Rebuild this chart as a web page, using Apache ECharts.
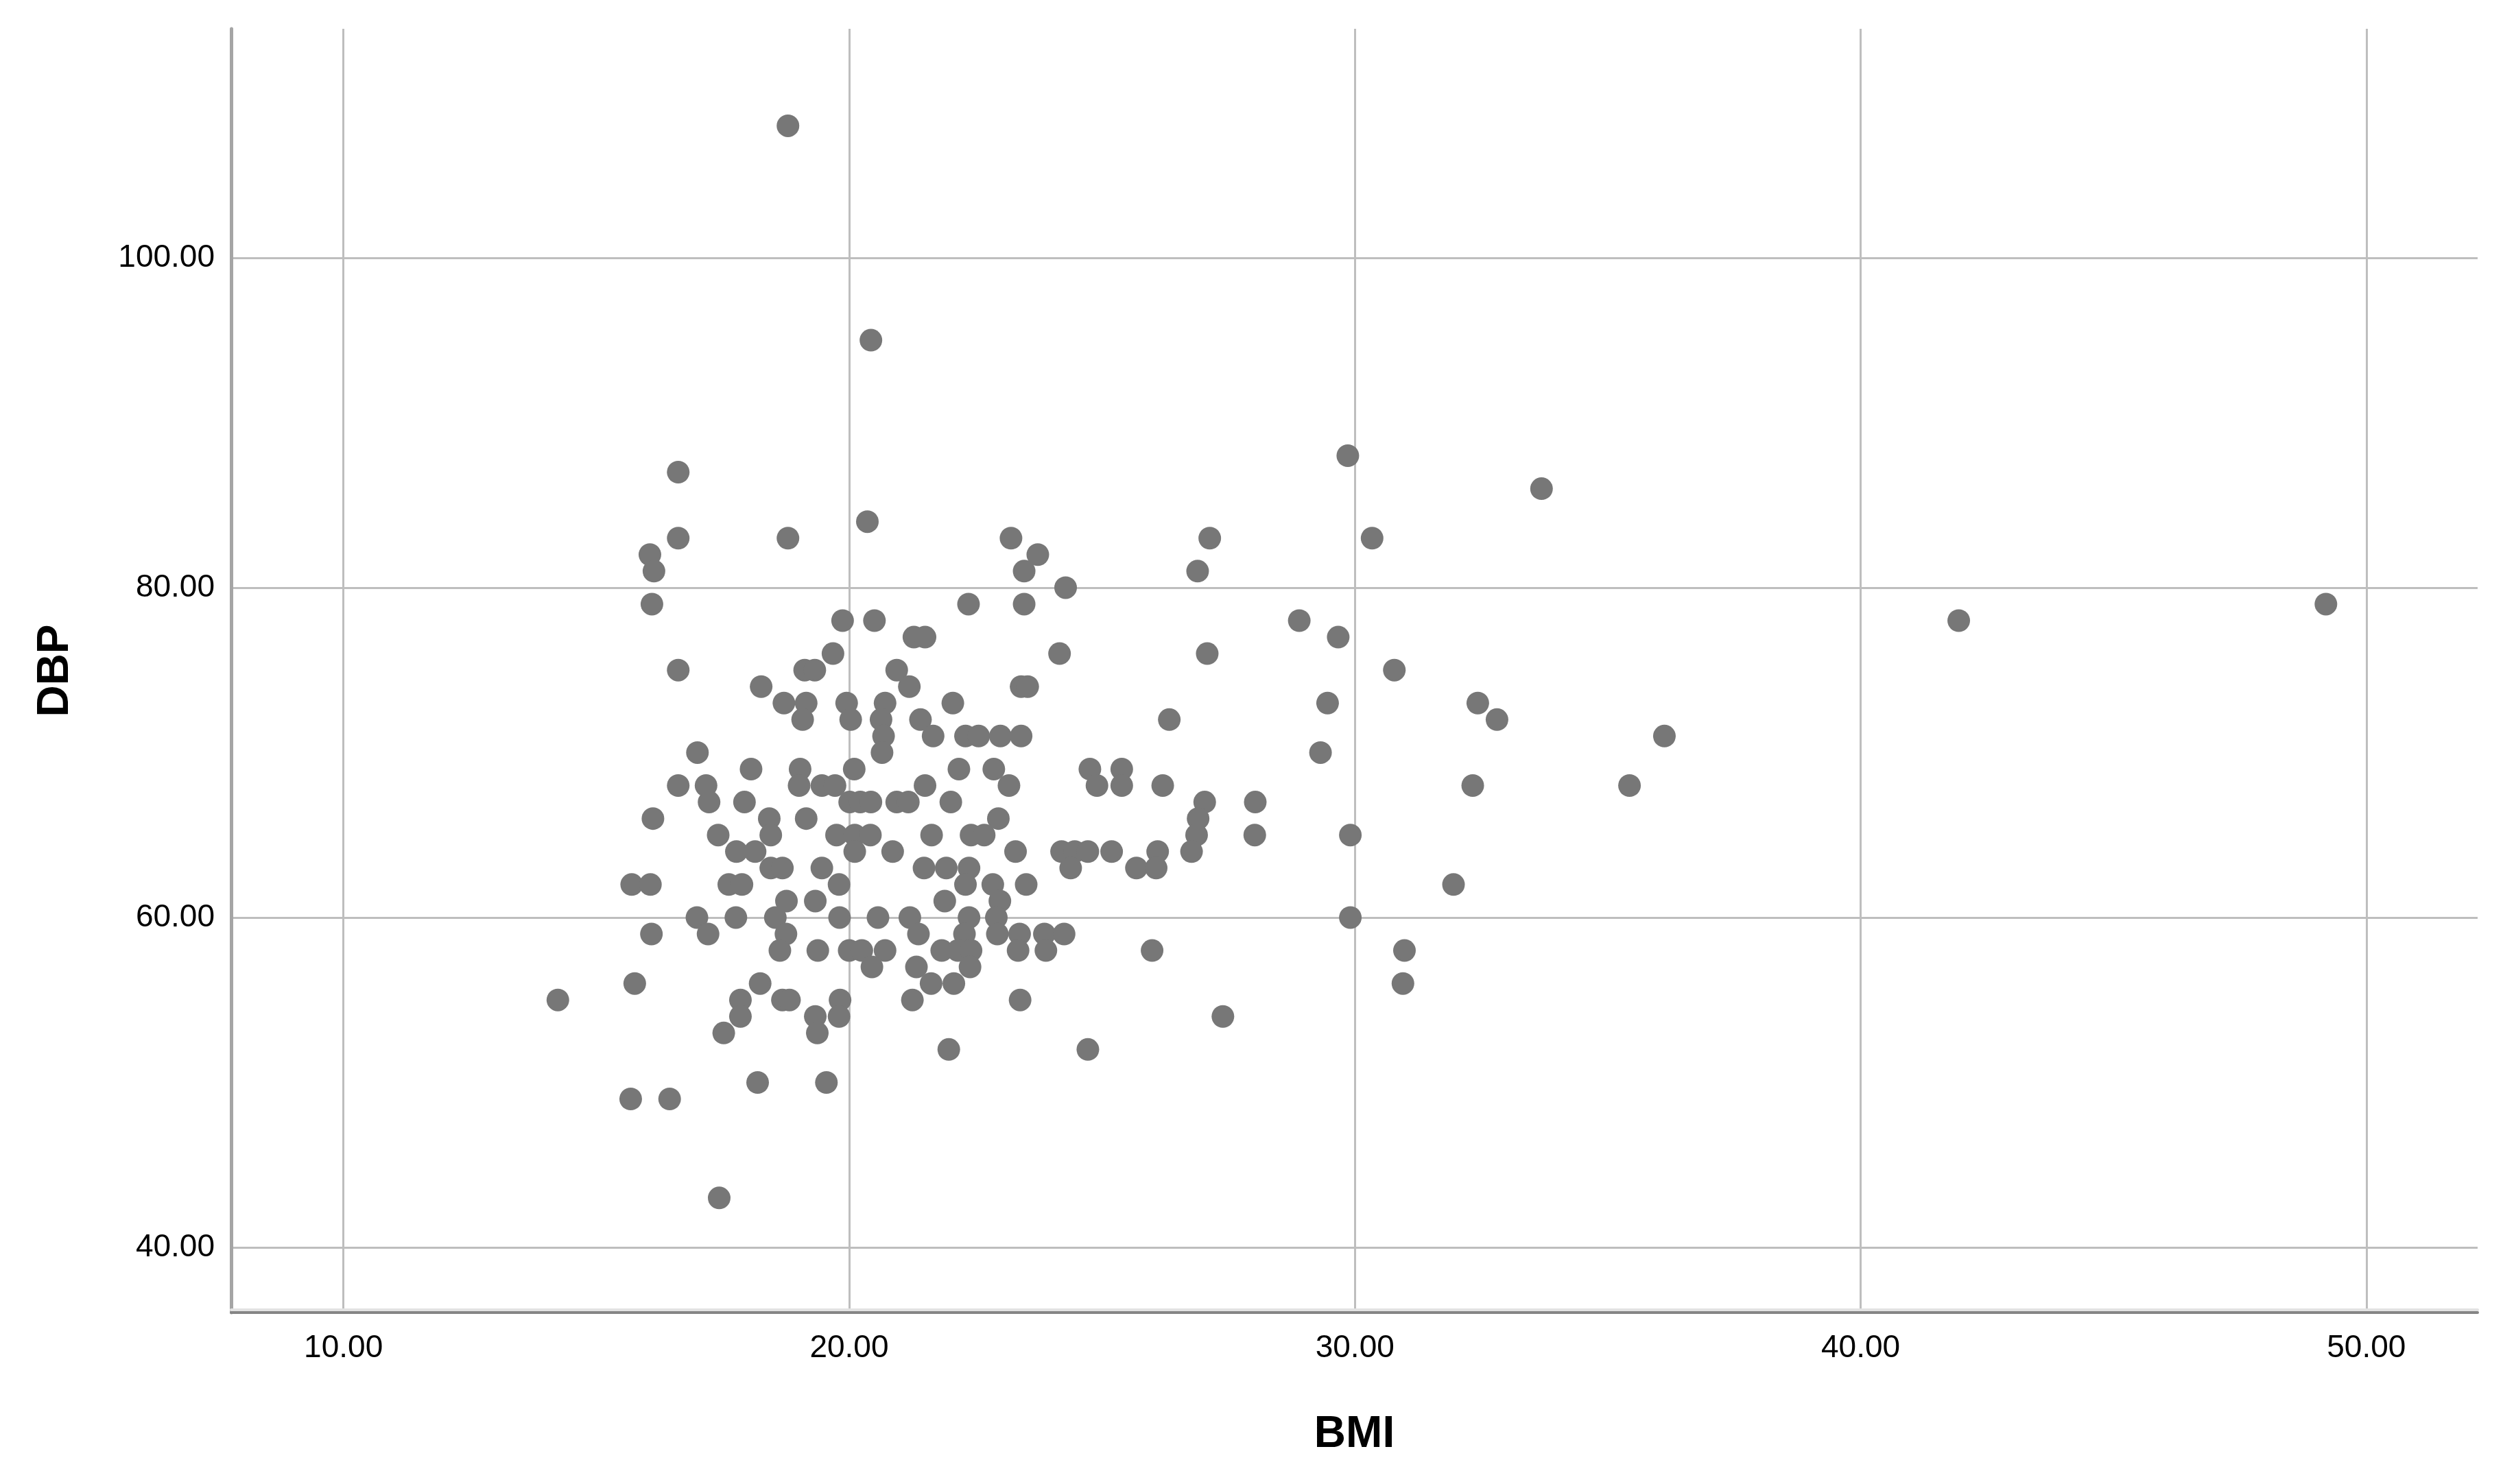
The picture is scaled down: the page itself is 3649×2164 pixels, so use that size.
<!DOCTYPE html>
<html>
<head>
<meta charset="utf-8">
<script src="https://cdn.jsdelivr.net/npm/echarts@6/dist/echarts.min.js"></script>
<style>
    html, body {margin: 0; padding: 0; background: #fff;}
    #scatter {width: 3649px; height: 2164px;}
</style>
</head>
<body>
<div id="scatter"></div>
<script>
// BMI / DBP pairs (DBP is whole numbers)
const bmi = [
    18.79, 20.43, 16.62, 20.36, 16.62, 18.79, 16.06, 16.14, 16.10, 19.87,
    20.50, 21.28, 21.50, 19.68, 16.62, 19.12, 19.32, 20.94, 18.26, 21.19,
    18.71, 19.15, 19.95, 20.71, 19.08, 20.03, 20.63, 21.41, 20.68, 21.66,
    20.65, 17.00, 18.06, 19.03, 20.10, 16.62, 17.17, 19.01, 19.46, 19.72,
    21.50, 17.23, 17.93, 20.01, 20.22, 20.43, 20.94, 21.17, 16.12, 18.42,
    19.15, 17.41, 18.45, 19.75, 20.11, 20.42, 21.63, 17.77, 18.14, 20.11,
    20.86, 18.45, 18.68, 19.46, 21.48, 15.70, 16.07, 17.62, 17.88, 19.80,
    18.76, 19.33, 16.99, 17.76, 18.54, 19.81, 20.57, 21.20, 16.09, 17.21,
    18.75, 21.37, 18.63, 19.38, 20.00, 20.25, 20.71, 20.45, 21.33, 15.76,
    18.24, 21.62, 14.24, 17.85, 18.68, 18.82, 19.82, 21.25, 17.85, 19.33,
    19.80, 17.52, 19.37, 18.19, 19.55, 15.68, 16.45, 17.43,
    21.92, 22.37, 22.30, 22.84, 21.89, 22.98, 22.37, 22.91, 22.28, 22.93,
    21.83, 22.15, 22.41, 22.39, 22.07,
    29.86, 23.20, 27.13, 23.73, 23.46, 26.89, 24.28, 22.36, 23.46, 28.90,
    29.67, 24.16, 27.08, 23.40, 23.53, 22.05, 29.46, 26.33, 22.30, 22.56,
    22.99, 23.40, 29.32, 22.17, 22.86, 24.76, 25.39, 23.16, 24.90, 25.39,
    26.20, 22.01, 27.03, 28.03, 22.95, 26.90,
    22.41, 22.67, 26.87, 28.02, 29.91, 23.29, 24.20, 24.46, 24.72, 25.19,
    26.10, 26.77, 24.38, 25.68, 26.07, 23.50, 29.91, 23.37, 23.86, 24.25,
    23.34, 23.89, 25.99, 23.38, 27.39, 21.97, 24.72,
    33.69, 30.34, 30.78, 32.43, 32.81, 36.12, 32.33, 35.43, 31.95, 30.98,
    30.95, 41.94, 49.20
];
const dbp = [
    108, 95, 87, 84, 83, 83, 82, 81, 79, 78,
    78, 77, 77, 76, 75, 75, 75, 75, 74, 74,
    73, 73, 73, 73, 72, 72, 72, 72, 71, 71,
    70, 70, 69, 69, 69, 68, 68, 68, 68, 68,
    68, 67, 67, 67, 67, 67, 67, 67, 66, 66,
    66, 65, 65, 65, 65, 65, 65, 64, 64, 64,
    64, 63, 63, 63, 63, 62, 62, 62, 62, 62,
    61, 61, 60, 60, 60, 60, 60, 60, 59, 59,
    59, 59, 58, 58, 58, 58, 58, 57, 57, 56,
    56, 56, 55, 55, 55, 55, 55, 55, 54, 54,
    54, 53, 53, 50, 50, 49, 49, 43,
    63, 63, 62, 62, 61, 61, 60, 60, 59, 59,
    58, 58, 58, 57, 56,
    88, 83, 83, 82, 81, 81, 80, 79, 79, 78,
    77, 76, 76, 74, 74, 73, 73, 72, 71, 71,
    71, 71, 70, 69, 69, 69, 69, 68, 68, 68,
    68, 67, 67, 67, 66, 66,
    65, 65, 65, 65, 65, 64, 64, 64, 64, 64,
    64, 64, 63, 63, 63, 62, 60, 59, 59, 59,
    58, 58, 58, 55, 54, 52, 52,
    86, 83, 75, 73, 72, 71, 68, 68, 62, 58,
    56, 78, 79
];

const xRange = [7.78, 52.2];
const yRange = [36.05, 113.88];
const xStep = 10;
const yStep = 20;

let points = bmi.map((v, i) => [v, dbp[i]]);

let myChart = echarts.init(document.getElementById('scatter'));

const labelFont = {
    color: '#000',
    fontFamily: 'Liberation Sans, Arial',
    fontSize: 46
};

let option = {
    animation: false,
    backgroundColor: '#fff',
    grid: {
        left: 337,
        right: 37,
        top: 42,
        bottom: 250
    },
    xAxis: {
        type: 'value',
        min: xRange[0],
        max: xRange[1],
        minInterval: xStep,
        maxInterval: xStep,
        name: 'BMI',
        nameLocation: 'middle',
        nameGap: 146,
        nameTextStyle: {
            color: '#000',
            fontFamily: 'Liberation Sans, Arial',
            fontWeight: 'bold',
            fontSize: 64
        },
        axisLine: {
            onZero: false,
            lineStyle: {
                color: '#858585',
                width: 4,
                shadowColor: '#e2e2e2',
                shadowOffsetY: -4,
                shadowBlur: 0
            }
        },
        axisTick: {show: false},
        axisLabel: Object.assign({
            margin: 29,
            showMinLabel: false,
            showMaxLabel: false,
            formatter: v => v.toFixed(2)
        }, labelFont),
        splitLine: {
            show: true,
            showMinLine: false,
            showMaxLine: false,
            lineStyle: {color: '#bebebe', width: 3}
        }
    },
    yAxis: {
        type: 'value',
        min: yRange[0],
        max: yRange[1],
        minInterval: yStep,
        maxInterval: yStep,
        name: 'DBP',
        nameLocation: 'middle',
        nameGap: 224,
        nameTextStyle: {
            color: '#000',
            fontFamily: 'Liberation Sans, Arial',
            fontWeight: 'bold',
            fontSize: 64
        },
        axisLine: {
            show: true,
            onZero: false,
            lineStyle: {color: '#a5a5a5', width: 5}
        },
        axisTick: {show: false},
        axisLabel: Object.assign({
            margin: 24,
            showMinLabel: false,
            showMaxLabel: false,
            formatter: v => v.toFixed(2)
        }, labelFont),
        splitLine: {
            show: true,
            showMinLine: false,
            showMaxLine: false,
            lineStyle: {color: '#bebebe', width: 3}
        }
    },
    series: [
        {
            name: 'BMI vs DBP',
            type: 'scatter',
            symbol: 'circle',
            symbolSize: 33,
            itemStyle: {
                color: '#777777',
                opacity: 1
            },
            data: points
        }
    ]
};

myChart.setOption(option);
</script>
</body>
</html>
